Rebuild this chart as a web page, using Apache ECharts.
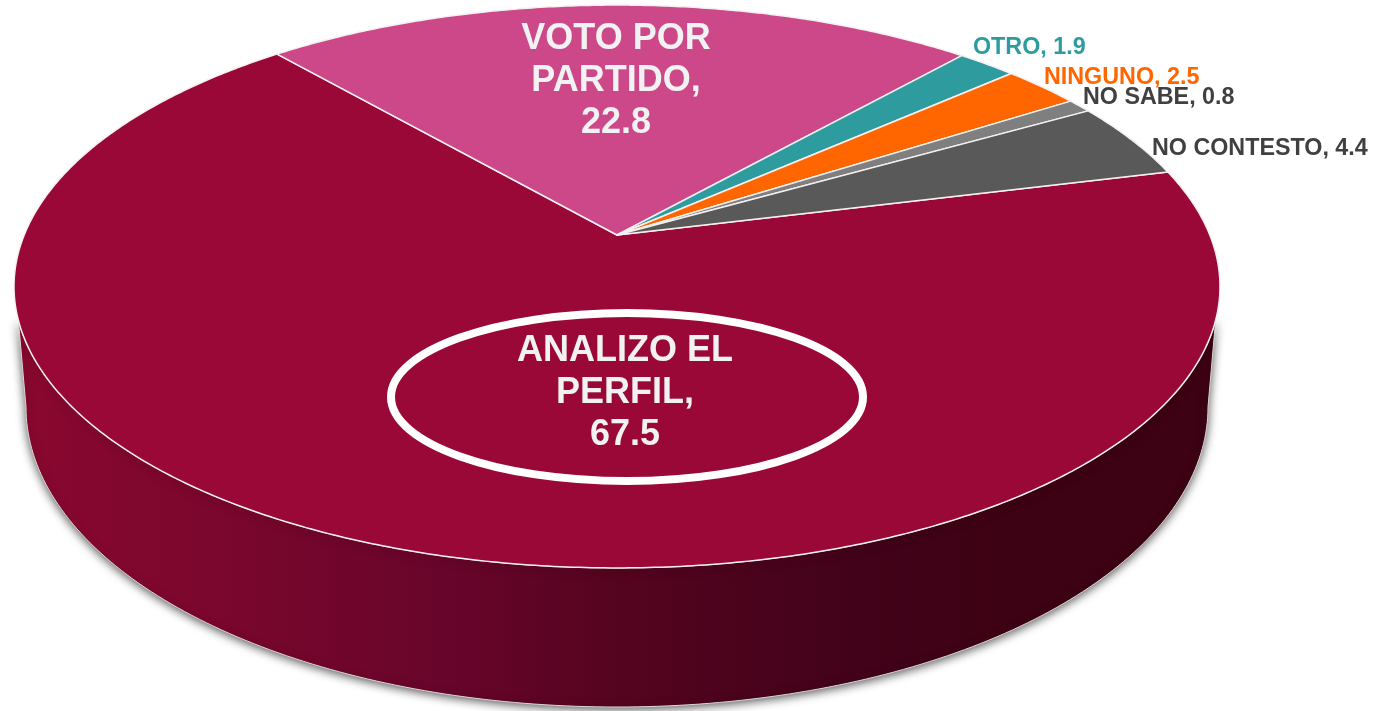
<!DOCTYPE html>
<html>
<head>
<meta charset="utf-8">
<title>Pie</title>
<script src="https://cdn.jsdelivr.net/npm/echarts@6/dist/echarts.min.js"></script>
<style>
	html, body { margin: 0; padding: 0; background: #fff; }
	#main { width: 1385px; height: 711px; }
</style>
</head>
<body>
<div id="main"></div>
<script>
	// datos
	const categories = ['ANALIZO EL\nPERFIL', 'VOTO POR\nPARTIDO', 'OTRO', 'NINGUNO', 'NO SABE', 'NO CONTESTO'];
	const values = [67.5, 22.8, 1.9, 2.5, 0.8, 4.4];
	const colors = ['#9a0837', '#cd4888', '#2e9c9f', '#ff6600', '#7f7f7f', '#595959'];
	const labelColors = ['#f2f2f2', '#f2f2f2', '#2e9c9f', '#ff6600', '#404040', '#404040'];
	// centro de cada etiqueta grande, borde izquierdo de las chicas
	const labelAt = [[625, 393], [616, 81], [973, 48], [1044, 78], [1083, 98], [1152, 149]];

	// perspectiva de la tapa: el vertice no queda en el centro de la elipse
	const cx = 617, cy = 235, radX = 592.8, radY = 272, persp = 0.183;
	const startDeg = 76;
	// base del cilindro
	const baseX = 591, baseMidY = 407, baseRadY = 300, rimJoinY = 320;

	function project(deg) {
		let a = deg * Math.PI / 180;
		let u = Math.sin(a), v = -Math.cos(a);
		let w = 1 - persp * v;
		return [cx + radX * u / w, cy + radY * v / w];
	}

	const total = values.reduce((s, d) => s + d, 0);

	function sliceAngles(idx) {
		let before = 0;
		for (let i = 0; i < idx; i++) before += values[i];
		return [startDeg + before / total * 360, startDeg + (before + values[idx]) / total * 360];
	}

	function renderSlice(params, api) {
		let i = params.dataIndex;
		let ang = sliceAngles(i);
		let pts = [[cx, cy]];
		for (let d = ang[0]; d < ang[1]; d += 0.5) pts.push(project(d));
		pts.push(project(ang[1]));
		let big = categories[i].indexOf('\n') >= 0;
		return {
			type: 'group',
			children: [{
				type: 'polygon',
				shape: { points: pts },
				style: { fill: colors[i], stroke: '#f4f0f1', lineWidth: 1.5, lineJoin: 'round' }
			}, {
				type: 'text',
				z2: 10,
				x: labelAt[i][0],
				y: labelAt[i][1],
				style: {
					text: categories[i] + (big ? ',\n' : ', ') + api.value(0),
					fill: labelColors[i],
					font: 'bold ' + (big ? 36 : 23.3) + 'px "Liberation Sans", Arial, sans-serif',
					lineHeight: big ? 42 : 26,
					align: big ? 'center' : 'left',
					verticalAlign: 'middle'
				}
			}]
		};
	}

	// pared lateral: solo se ve la rebanada grande
	function renderWall() {
		let pts = [];
		let a0 = null, a1 = null;
		for (let d = 90; d <= 180; d += 0.25) if (project(d)[1] >= rimJoinY && a0 === null) a0 = d;
		for (let d = 270; d >= 180; d -= 0.25) if (project(d)[1] >= rimJoinY && a1 === null) a1 = d;
		for (let d = a0; d <= a1; d += 0.5) pts.push(project(d));
		for (let t = 0; t <= 180; t += 1) {
			let r = t * Math.PI / 180;
			pts.push([cx - baseX * Math.cos(r), baseMidY + baseRadY * Math.sin(r)]);
		}
		return {
			type: 'polygon',
			shape: { points: pts },
			style: {
				fill: new echarts.graphic.LinearGradient(0, 0, 1, 0, [
					{ offset: 0, color: '#8a0830' },
					{ offset: 0.36, color: '#68052a' },
					{ offset: 0.5, color: '#55041f' },
					{ offset: 0.7, color: '#42021a' },
					{ offset: 0.84, color: '#3d0213' },
					{ offset: 1, color: '#3d0213' }
				]),
				stroke: '#ddd6d8',
				lineWidth: 1,
				shadowBlur: 10,
				shadowColor: 'rgba(0,0,0,0.65)',
				shadowOffsetY: 2
			}
		};
	}

	let myChart = echarts.init(document.getElementById('main'));
	myChart.setOption({
		animation: false,
		backgroundColor: '#fff',
		series: [{
			type: 'custom',
			coordinateSystem: 'none',
			silent: true,
			z: 1,
			data: [values[0]],
			renderItem: renderWall
		}, {
			type: 'custom',
			coordinateSystem: 'none',
			silent: true,
			z: 2,
			data: values.map((d, i) => ({ name: categories[i], value: [d] })),
			renderItem: renderSlice
		}],
		graphic: [{
			type: 'ellipse',
			z: 5,
			silent: true,
			shape: { cx: 627, cy: 397, rx: 236, ry: 84 },
			style: { fill: 'none', stroke: '#fff', lineWidth: 8 }
		}]
	});
</script>
</body>
</html>
